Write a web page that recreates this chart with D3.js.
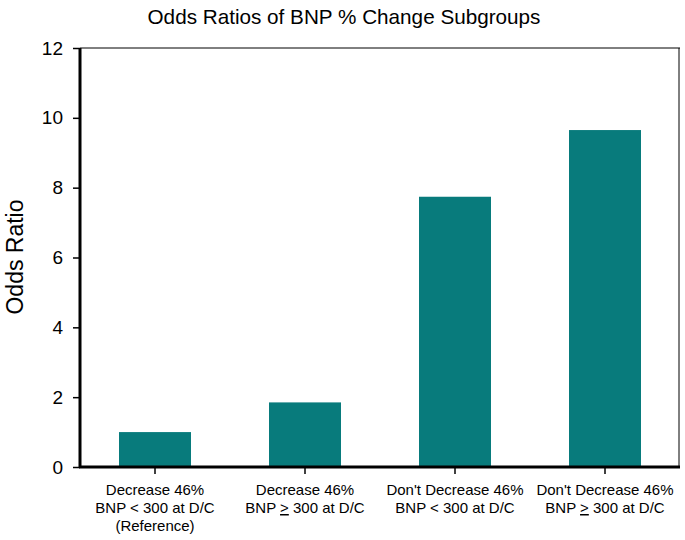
<!DOCTYPE html>
<html>
<head>
<meta charset="utf-8">
<script src="https://d3js.org/d3.v7.min.js"></script>
<style>
  body { margin: 0; background: #fff; }
  text { font-family: Arial, "Liberation Sans", sans-serif; }
</style>
</head>
<body>
<svg id="canvas" width="685" height="540"></svg>
<script>
let categories = ['g1', 'g2', 'g3', 'g4']
let oddsRatios = [1.0, 1.85, 7.74, 9.65]
// label lines per category; "_>" means an underlined > sign
let labelLines = [
    ['Decrease 46%', 'BNP < 300 at D/C', '(Reference)'],
    ['Decrease 46%', 'BNP _> 300 at D/C'],
    ["Don't Decrease 46%", 'BNP < 300 at D/C'],
    ["Don't Decrease 46%", 'BNP _> 300 at D/C']
]
let yTicks = [0, 2, 4, 6, 8, 10, 12]

let canvas = d3.select('#canvas')
let plotLeft = 80, plotRight = 680, plotTop = 48, plotBottom = 467

let xScale = d3.scaleBand().domain(categories).range([plotLeft, plotRight]).paddingInner(0.52).paddingOuter(0.26)
let yScale = d3.scaleLinear().domain([0, 12]).range([plotBottom, plotTop])

// title
canvas.append('text')
    .attr('x', 344).attr('y', 24)
    .attr('text-anchor', 'middle')
    .style('font-size', '20.7px')
    .text('Odds Ratios of BNP % Change Subgroups')

// bars
canvas.selectAll('rect.bar')
    .data(oddsRatios)
    .enter()
    .append('rect')
    .attr('class', 'bar')
    .attr('x', (d, i) => xScale(categories[i]))
    .attr('width', xScale.bandwidth())
    .attr('y', (d) => yScale(d))
    .attr('height', (d) => yScale(0) - yScale(d))
    .attr('fill', '#087b7c')

// frame: thin top/right
canvas.append('line').attr('x1', plotLeft).attr('x2', plotRight).attr('y1', plotTop).attr('y2', plotTop)
    .attr('stroke', '#000').attr('stroke-width', 1)
canvas.append('line').attr('x1', plotRight - 1).attr('x2', plotRight - 1).attr('y1', plotTop).attr('y2', plotBottom)
    .attr('stroke', '#000').attr('stroke-width', 1)

// y axis
let yAxis = d3.axisLeft(yScale).tickValues(yTicks).tickSize(7).tickPadding(10)
let gy = canvas.append('g').attr('transform', `translate(${plotLeft},0)`).call(yAxis)
gy.select('.domain').attr('stroke-width', 3).attr('d', `M0,${plotTop}V${plotBottom + 1}`)
gy.selectAll('.tick line').attr('stroke-width', 1.5)
gy.selectAll('.tick text').style('font-size', '19px').attr('fill', '#000')
    .attr('font-family', 'Arial, "Liberation Sans", sans-serif')

// x axis
let xAxis = d3.axisBottom(xScale).tickSize(7).tickFormat('')
let gx = canvas.append('g').attr('transform', `translate(0,${plotBottom})`).call(xAxis)
gx.select('.domain').attr('stroke-width', 3).attr('d', `M${plotLeft - 1},0H${plotRight}`)
gx.selectAll('.tick line').attr('stroke-width', 1.5)

// x labels
categories.forEach((c, i) => {
    let t = canvas.append('text')
        .attr('x', xScale(c) + xScale.bandwidth() / 2)
        .attr('y', 495)
        .attr('text-anchor', 'middle')
        .style('font-size', '15px')
    labelLines[i].forEach((line, j) => {
        let ts = t.append('tspan')
            .attr('x', xScale(c) + xScale.bandwidth() / 2)
            .attr('dy', j === 0 ? 0 : 18)
        if (line.includes('_>')) {
            let parts = line.split('_>')
            ts.append('tspan').text(parts[0])
            ts.append('tspan').style('text-decoration', 'underline').text('>')
            ts.append('tspan').text(parts[1])
        } else {
            ts.text(line)
        }
    })
})

// y label
canvas.append('text')
    .attr('transform', 'translate(23,257) rotate(-90)')
    .attr('text-anchor', 'middle')
    .style('font-size', '23px')
    .text('Odds Ratio')
</script>
</body>
</html>
